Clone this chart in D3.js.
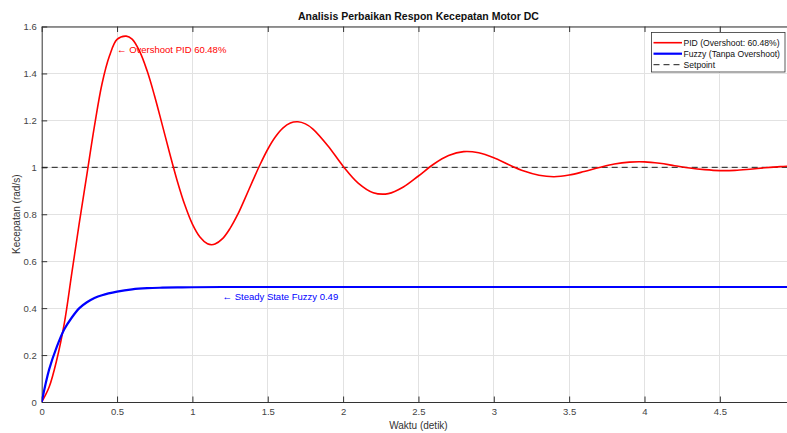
<!DOCTYPE html>
<html>
<head>
<meta charset="utf-8">
<script src="https://cdn.jsdelivr.net/npm/d3@7/dist/d3.min.js"></script>
<style>
  html, body { margin: 0; padding: 0; background: #fff; }
  svg { display: block; font-family: "Liberation Sans", Arial, sans-serif; }
</style>
</head>
<body>
<svg id="chart" width="787" height="433"></svg>
<script>
// ---- data ----
const pidTime = [0, 0.05, 0.1, 0.15, 0.2, 0.25, 0.3, 0.35, 0.4, 0.45, 0.5, 0.561, 0.6, 0.65, 0.7, 0.75, 0.8, 0.85, 0.9, 0.95, 1.0, 1.05, 1.1, 1.127, 1.15, 1.2, 1.25, 1.3, 1.35, 1.4, 1.45, 1.5, 1.55, 1.6, 1.65, 1.7, 1.75, 1.8, 1.9, 2.0, 2.1, 2.2, 2.3, 2.4, 2.5, 2.6, 2.7, 2.8, 2.9, 3.0, 3.1, 3.2, 3.3, 3.4, 3.5, 3.6, 3.7, 3.8, 3.9, 4.0, 4.1, 4.2, 4.3, 4.4, 4.5, 4.6, 4.7, 4.8, 4.9, 5.0];
const pidValues = [0, 0.065, 0.18, 0.335, 0.55, 0.765, 0.97, 1.175, 1.355, 1.475, 1.545, 1.559, 1.546, 1.494, 1.41, 1.302, 1.181, 1.058, 0.941, 0.839, 0.758, 0.703, 0.674, 0.670, 0.673, 0.696, 0.740, 0.798, 0.869, 0.942, 1.013, 1.077, 1.129, 1.167, 1.189, 1.194, 1.185, 1.163, 1.091, 1.005, 0.933, 0.892, 0.888, 0.916, 0.963, 1.013, 1.050, 1.067, 1.062, 1.041, 1.011, 0.984, 0.966, 0.960, 0.967, 0.982, 0.999, 1.014, 1.022, 1.023, 1.017, 1.007, 0.997, 0.990, 0.986, 0.987, 0.992, 0.998, 1.003, 1.006];
const fuzzyTime = [0, 0.05, 0.1, 0.15, 0.2, 0.25, 0.3, 0.35, 0.4, 0.5, 0.6, 0.7, 0.8, 0.9, 1.0, 1.2, 1.5, 2.0, 3.0, 4.0, 5.0];
const fuzzyValues = [0, 0.14, 0.235, 0.31, 0.36, 0.40, 0.425, 0.443, 0.455, 0.470, 0.480, 0.485, 0.487, 0.488, 0.489, 0.49, 0.49, 0.49, 0.49, 0.49, 0.49];
const setpointTime = [0, 5];
const setpointValues = [1, 1];
const xTicks = [0, 0.5, 1, 1.5, 2, 2.5, 3, 3.5, 4, 4.5];
const yTicks = [0, 0.2, 0.4, 0.6, 0.8, 1, 1.2, 1.4, 1.6];
const legendLabels = ["PID (Overshoot: 60.48%)", "Fuzzy (Tanpa Overshoot)", "Setpoint"];
const titleText = "Analisis Perbaikan Respon Kecepatan Motor DC";
const xLabel = "Waktu (detik)";
const yLabel = "Kecepatan (rad/s)";
const annotations = [
  { x: 0.5, y: 1.5, text: "\u2190 Overshoot PID 60.48%", color: "#ff0000" },
  { x: 1.2, y: 0.45, text: "\u2190 Steady State Fuzzy 0.49", color: "#0000ff" }
];

// ---- layout ----
const svg = d3.select("#chart");
const pL = 41.7, pR = 795.2, pT = 26.5, pB = 402;
const x = d3.scaleLinear().domain([0, 5]).range([pL, pR]);
const y = d3.scaleLinear().domain([0, 1.6]).range([pB, pT]);
const axisColor = "#333333";

svg.append("defs").append("clipPath").attr("id", "clip")
  .append("rect").attr("x", pL).attr("y", pT).attr("width", pR - pL).attr("height", pB - pT);

// grid
const grid = svg.append("g");
grid.selectAll("line.gx").data(xTicks.slice(1)).join("line")
  .attr("x1", d => x(d)).attr("x2", d => x(d)).attr("y1", pT).attr("y2", pB)
  .attr("stroke", "#e2e2e2").attr("stroke-width", 1).attr("shape-rendering", "crispEdges");
grid.selectAll("line.gy").data(yTicks.slice(1)).join("line")
  .attr("x1", pL).attr("x2", pR).attr("y1", d => y(d)).attr("y2", d => y(d))
  .attr("stroke", "#e2e2e2").attr("stroke-width", 1).attr("shape-rendering", "crispEdges");

// axes
const fmt = d => String(d);
const xAxis = svg.append("g").attr("transform", `translate(0,${pB})`)
  .call(d3.axisBottom(x).tickValues(xTicks).tickFormat(fmt).tickSizeInner(-5.5).tickSizeOuter(0).tickPadding(6));
const xAxisTop = svg.append("g").attr("transform", `translate(0,${pT})`)
  .call(d3.axisTop(x).tickValues(xTicks).tickFormat("").tickSizeInner(-5.5).tickSizeOuter(0));
const yAxis = svg.append("g").attr("transform", `translate(${pL},0)`)
  .call(d3.axisLeft(y).tickValues(yTicks).tickFormat(fmt).tickSizeInner(-5.5).tickSizeOuter(0).tickPadding(5));
[xAxis, xAxisTop, yAxis].forEach(g => {
  g.select(".domain").attr("stroke", axisColor).attr("stroke-width", 1);
  g.selectAll(".tick line").attr("stroke", axisColor).attr("stroke-width", 1);
  g.selectAll(".tick text").attr("fill", "#444").attr("font-size", "9.5px")
    .attr("font-family", "'Liberation Sans', Arial, sans-serif");
});

// lines
const plot = svg.append("g").attr("clip-path", "url(#clip)");
const line = d3.line().x(d => x(d[0])).y(d => y(d[1])).curve(d3.curveCatmullRom.alpha(0.5));
plot.append("path").datum(setpointTime.map((t, i) => [t, setpointValues[i]]))
  .attr("d", d3.line().x(d => x(d[0])).y(d => y(d[1])))
  .attr("fill", "none").attr("stroke", "#1a1a1a").attr("stroke-width", 1).attr("stroke-dasharray", "6,4");
plot.append("path").datum(pidTime.map((t, i) => [t, pidValues[i]]))
  .attr("d", line).attr("fill", "none").attr("stroke", "#ff0000").attr("stroke-width", 1.6);
plot.append("path").datum(fuzzyTime.map((t, i) => [t, fuzzyValues[i]]))
  .attr("d", line).attr("fill", "none").attr("stroke", "#0000ff").attr("stroke-width", 2.2);

// annotations
svg.selectAll("text.ann").data(annotations).join("text")
  .attr("class", "ann")
  .attr("x", d => x(d.x)).attr("y", d => y(d.y))
  .attr("dy", "0.35em")
  .attr("fill", d => d.color).attr("font-size", "9.5px")
  .text(d => d.text);

// title and labels
svg.append("text").attr("x", (pL + pR) / 2).attr("y", 20)
  .attr("text-anchor", "middle").attr("font-weight", "bold").attr("font-size", "10.5px").attr("fill", "#111")
  .text(titleText);
svg.append("text").attr("x", (pL + pR) / 2).attr("y", 429)
  .attr("text-anchor", "middle").attr("font-size", "10px").attr("fill", "#333")
  .text(xLabel);
svg.append("text").attr("transform", `translate(20,${(pT + pB) / 2}) rotate(-90)`)
  .attr("text-anchor", "middle").attr("font-size", "10px").attr("fill", "#333")
  .text(yLabel);

// legend
const lg = svg.append("g");
lg.append("rect").attr("x", 651.5).attr("y", 32.5).attr("width", 133.5).attr("height", 39.5)
  .attr("fill", "#fff").attr("stroke", "#333").attr("stroke-width", 0.8);
const legendStyles = [
  { color: "#ff0000", width: 1.6, dash: null },
  { color: "#0000ff", width: 2.2, dash: null },
  { color: "#1a1a1a", width: 1, dash: "6,4" }
];
legendLabels.forEach((lab, i) => {
  const yy = 42.7 + i * 11;
  lg.append("line").attr("x1", 653.5).attr("x2", 682).attr("y1", yy).attr("y2", yy)
    .attr("stroke", legendStyles[i].color).attr("stroke-width", legendStyles[i].width)
    .attr("stroke-dasharray", legendStyles[i].dash);
  lg.append("text").attr("x", 683.5).attr("y", yy).attr("dy", "0.35em")
    .attr("font-size", "8.6px").attr("fill", "#111").text(lab);
});
</script>
</body>
</html>
